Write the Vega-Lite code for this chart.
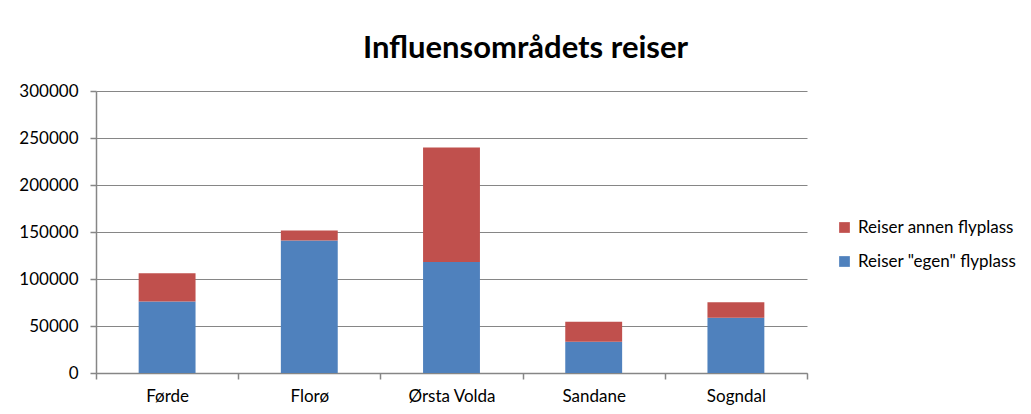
{
  "$schema": "https://vega.github.io/schema/vega-lite/v6.json",
  "autosize": {"type": "none"},
  "padding": {"left": 96, "top": 91, "right": 224, "bottom": 41},
  "width": 711,
  "height": 282,
  "background": "white",
  "config": {
    "view": {"stroke": null},
    "font": "Lato"
  },
  "title": {
    "text": "Influensområdets reiser",
    "font": "Lato",
    "fontSize": 31,
    "fontWeight": "bold",
    "color": "#000000",
    "anchor": "middle",
    "dx": 74,
    "offset": 17
  },
  "data": {
    "values": [
      {"sted": "Førde", "serie": "Reiser \"egen\" flyplass", "lag": 1, "reiser": 76000},
      {"sted": "Førde", "serie": "Reiser annen flyplass", "lag": 2, "reiser": 30000},
      {"sted": "Florø", "serie": "Reiser \"egen\" flyplass", "lag": 1, "reiser": 141000},
      {"sted": "Florø", "serie": "Reiser annen flyplass", "lag": 2, "reiser": 10500},
      {"sted": "Ørsta Volda", "serie": "Reiser \"egen\" flyplass", "lag": 1, "reiser": 118000},
      {"sted": "Ørsta Volda", "serie": "Reiser annen flyplass", "lag": 2, "reiser": 122000},
      {"sted": "Sandane", "serie": "Reiser \"egen\" flyplass", "lag": 1, "reiser": 33300},
      {"sted": "Sandane", "serie": "Reiser annen flyplass", "lag": 2, "reiser": 21300},
      {"sted": "Sogndal", "serie": "Reiser \"egen\" flyplass", "lag": 1, "reiser": 58900},
      {"sted": "Sogndal", "serie": "Reiser annen flyplass", "lag": 2, "reiser": 16300}
    ]
  },
  "mark": {"type": "bar", "width": {"band": 0.4}},
  "encoding": {
    "x": {
      "field": "sted",
      "type": "nominal",
      "sort": ["Førde", "Florø", "Ørsta Volda", "Sandane", "Sogndal"],
      "scale": {"paddingInner": 0, "paddingOuter": 0},
      "axis": {
        "title": null,
        "labelAngle": 0,
        "labelFont": "Lato",
        "labelFontSize": 17,
        "labelColor": "#000000",
        "labelPadding": 9,
        "domainColor": "#868686",
        "domainWidth": 1.5,
        "tickColor": "#868686",
        "tickWidth": 1.5,
        "tickSize": 6,
        "tickBand": "extent"
      }
    },
    "y": {
      "field": "reiser",
      "type": "quantitative",
      "stack": "zero",
      "scale": {"domain": [0, 300000], "nice": false},
      "axis": {
        "title": null,
        "values": [0, 50000, 100000, 150000, 200000, 250000, 300000],
        "format": "d",
        "labelFont": "Lato",
        "labelFontSize": 17,
        "labelColor": "#000000",
        "labelPadding": 12,
        "domainColor": "#868686",
        "domainWidth": 1.5,
        "tickColor": "#868686",
        "tickWidth": 1.5,
        "tickSize": 6,
        "grid": true,
        "gridColor": "#868686",
        "gridWidth": 1
      }
    },
    "color": {
      "field": "serie",
      "type": "nominal",
      "scale": {
        "domain": ["Reiser annen flyplass", "Reiser \"egen\" flyplass"],
        "range": ["#C0504D", "#4F81BD"]
      },
      "legend": {
        "title": null,
        "orient": "none",
        "legendX": 740,
        "legendY": 128,
        "symbolType": "square",
        "symbolSize": 115,
        "symbolStrokeWidth": 0,
        "labelFont": "Lato",
        "labelFontSize": 17,
        "labelColor": "#000000",
        "labelOffset": 5,
        "rowPadding": 16
      }
    },
    "order": {"field": "lag", "type": "quantitative", "sort": "ascending"}
  }
}
